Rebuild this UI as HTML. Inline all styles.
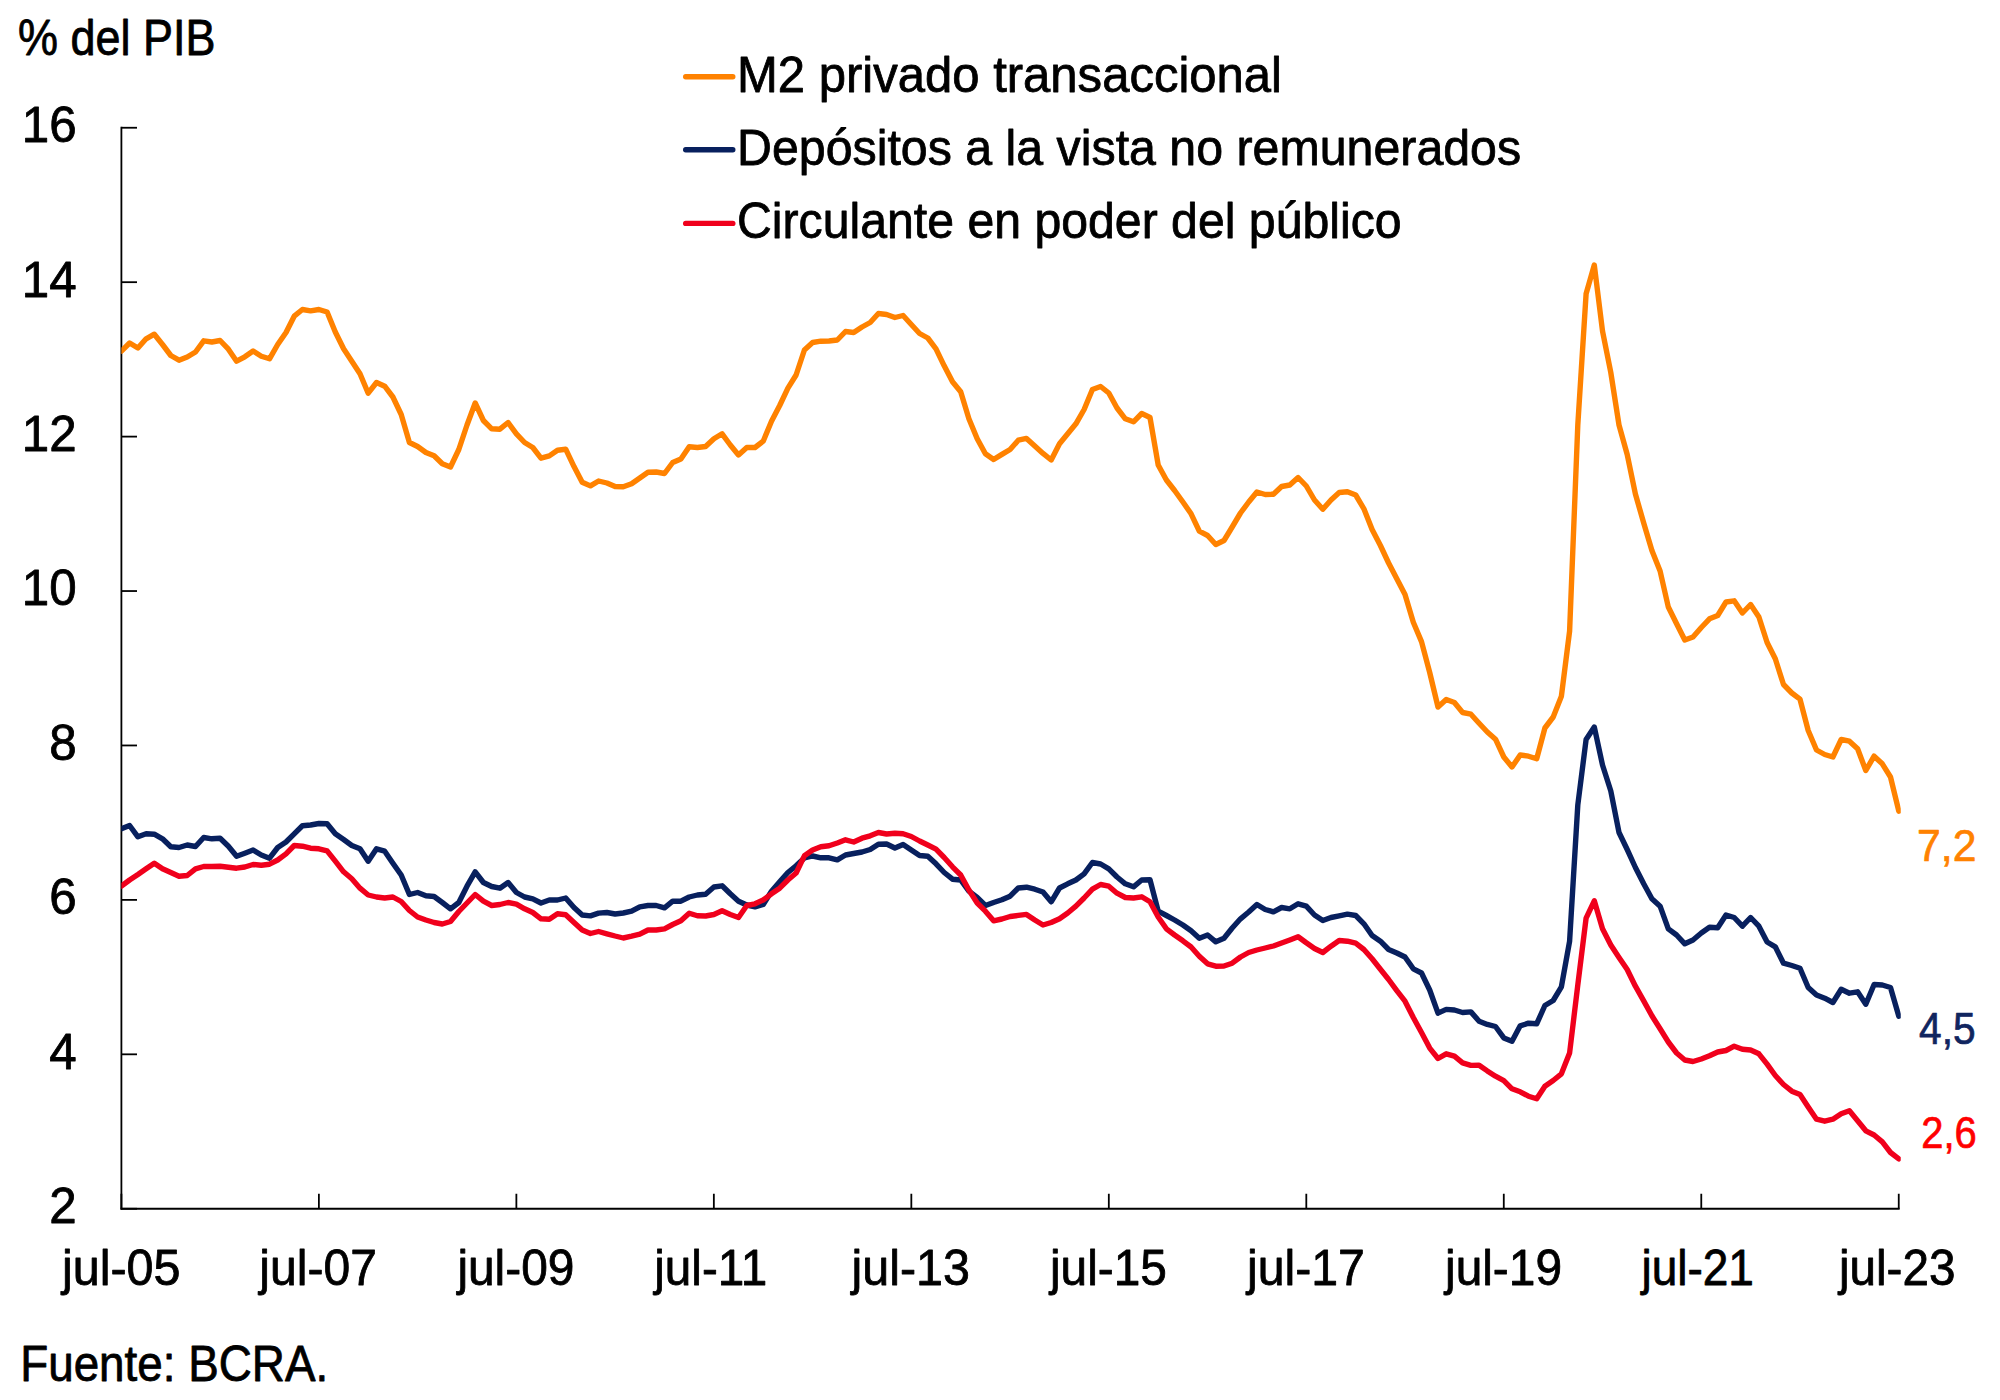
<!DOCTYPE html>
<html lang="es">
<head>
<meta charset="utf-8">
<title>Agregados monetarios - % del PIB</title>
<style>
html,body{margin:0;padding:0;background:#fff;}
body{width:2000px;height:1400px;overflow:hidden;}
svg{display:block;}
text{font-family:"Liberation Sans",sans-serif;fill:#000;stroke:#000;stroke-width:0.8px;stroke-linejoin:round;}
.t49{font-size:49.3px;}
.t44{font-size:44.4px;stroke-width:0.7px;}
</style>
</head>
<body>
<svg width="2000" height="1400" viewBox="0 0 2000 1400">
<rect width="2000" height="1400" fill="#ffffff"/>
<g stroke="#000" stroke-width="1.8" fill="none" stroke-linecap="butt">
<path d="M121.4,126.85 V1209.65"/>
<path d="M120.5,1208.75 H1899.65"/>
<path d="M121.4,127.75 h15.6"/>
<path d="M121.4,282.18 h15.6"/>
<path d="M121.4,436.61 h15.6"/>
<path d="M121.4,591.04 h15.6"/>
<path d="M121.4,745.46 h15.6"/>
<path d="M121.4,899.89 h15.6"/>
<path d="M121.4,1054.32 h15.6"/>
<path d="M121.4,1208.75 h15.6"/>
<path d="M121.40,1208.75 v-15"/>
<path d="M318.88,1208.75 v-15"/>
<path d="M516.37,1208.75 v-15"/>
<path d="M713.85,1208.75 v-15"/>
<path d="M911.33,1208.75 v-15"/>
<path d="M1108.82,1208.75 v-15"/>
<path d="M1306.30,1208.75 v-15"/>
<path d="M1503.78,1208.75 v-15"/>
<path d="M1701.27,1208.75 v-15"/>
<path d="M1898.75,1208.75 v-15"/>
</g>
<text id="y16" class="t49" x="76.60" y="142.15" text-anchor="end">16</text>
<text id="y14" class="t49" x="76.60" y="296.58" text-anchor="end">14</text>
<text id="y12" class="t49" x="76.60" y="451.01" text-anchor="end">12</text>
<text id="y10" class="t49" x="76.60" y="605.44" text-anchor="end">10</text>
<text id="y8" class="t49" x="76.60" y="759.86" text-anchor="end">8</text>
<text id="y6" class="t49" x="76.60" y="914.29" text-anchor="end">6</text>
<text id="y4" class="t49" x="76.60" y="1068.72" text-anchor="end">4</text>
<text id="y2" class="t49" x="76.60" y="1223.15" text-anchor="end">2</text>
<text id="x0" class="t49" x="121.22" y="1285.30" text-anchor="middle" textLength="118.59" lengthAdjust="spacingAndGlyphs">jul-05</text>
<text id="x1" class="t49" x="318.14" y="1285.30" text-anchor="middle" textLength="117.57" lengthAdjust="spacingAndGlyphs">jul-07</text>
<text id="x2" class="t49" x="515.88" y="1285.30" text-anchor="middle" textLength="116.99" lengthAdjust="spacingAndGlyphs">jul-09</text>
<text id="x3" class="t49" x="710.71" y="1285.30" text-anchor="middle" textLength="112.94" lengthAdjust="spacingAndGlyphs">jul-11</text>
<text id="x4" class="t49" x="910.69" y="1285.30" text-anchor="middle" textLength="118.39" lengthAdjust="spacingAndGlyphs">jul-13</text>
<text id="x5" class="t49" x="1108.44" y="1285.30" text-anchor="middle" textLength="116.97" lengthAdjust="spacingAndGlyphs">jul-15</text>
<text id="x6" class="t49" x="1305.98" y="1285.30" text-anchor="middle" textLength="117.97" lengthAdjust="spacingAndGlyphs">jul-17</text>
<text id="x7" class="t49" x="1503.50" y="1285.30" text-anchor="middle" textLength="116.99" lengthAdjust="spacingAndGlyphs">jul-19</text>
<text id="x8" class="t49" x="1697.69" y="1285.30" text-anchor="middle" textLength="112.54" lengthAdjust="spacingAndGlyphs">jul-21</text>
<text id="x9" class="t49" x="1897.19" y="1285.30" text-anchor="middle" textLength="116.60" lengthAdjust="spacingAndGlyphs">jul-23</text>
<text id="pib" class="t49" x="18.10" y="54.80" textLength="197.40" lengthAdjust="spacingAndGlyphs">% del PIB</text>
<text id="fuente" class="t49" x="20.23" y="1380.50" textLength="307.93" lengthAdjust="spacingAndGlyphs">Fuente: BCRA.</text>
<text id="leg1" class="t49" x="737.00" y="91.80" textLength="545.02" lengthAdjust="spacingAndGlyphs">M2 privado transaccional</text>
<text id="leg2" class="t49" x="737.08" y="164.60" textLength="784.07" lengthAdjust="spacingAndGlyphs">Depósitos a la vista no remunerados</text>
<text id="leg3" class="t49" x="737.04" y="237.80" textLength="664.56" lengthAdjust="spacingAndGlyphs">Circulante en poder del público</text>
<text id="e72" class="t44" x="1917.10" y="861.00" style="fill:#ff8200;stroke:#ff8200" textLength="59.40" lengthAdjust="spacingAndGlyphs">7,2</text>
<text id="e45" class="t44" x="1919.06" y="1043.80" style="fill:#10255f;stroke:#10255f" textLength="56.52" lengthAdjust="spacingAndGlyphs">4,5</text>
<text id="e26" class="t44" x="1921.18" y="1148.00" style="fill:#ff0000;stroke:#ff0000" textLength="55.60" lengthAdjust="spacingAndGlyphs">2,6</text>
<g fill="none" stroke-width="5.4" stroke-linecap="round"><path d="M685.7,76.8 H732.8" stroke="#ff8200"/><path d="M685.7,149.8 H732.8" stroke="#08205e"/><path d="M685.7,223.4 H732.8" stroke="#f0001c"/></g>
<clipPath id="plotclip"><rect x="121.4" y="100" width="1779.35" height="1200"/></clipPath>
<g clip-path="url(#plotclip)" fill="none" stroke-width="5.4" stroke-linejoin="round" stroke-linecap="round">
<polyline points="121.4,351.2 129.6,343.0 137.9,348.0 146.1,338.8 154.3,334.2 162.5,344.5 170.8,355.5 179.0,360.2 187.2,357.0 195.5,352.0 203.7,340.8 211.9,342.0 220.1,340.5 228.4,349.2 236.6,361.2 244.8,356.8 253.1,351.0 261.3,356.2 269.5,358.8 277.7,344.5 286.0,332.5 294.2,316.2 302.4,309.5 310.6,310.8 318.9,309.5 327.1,312.0 335.3,332.0 343.6,348.8 351.8,361.2 360.0,373.8 368.2,393.2 376.5,382.5 384.7,386.2 392.9,397.0 401.2,414.5 409.4,442.5 417.6,446.5 425.9,452.5 434.1,455.8 442.3,463.8 450.5,467.0 458.8,449.5 467.0,425.0 475.2,403.0 483.4,420.5 491.7,428.8 499.9,429.2 508.1,422.5 516.4,433.8 524.6,442.5 532.8,447.5 541.0,458.2 549.3,455.9 557.5,450.2 565.7,449.2 574.0,466.6 582.2,482.2 590.4,485.9 598.6,481.0 606.9,483.0 615.1,486.5 623.3,486.8 631.6,483.8 639.8,478.0 648.0,472.2 656.2,472.0 664.5,473.5 672.7,462.5 680.9,459.0 689.2,446.8 697.4,447.5 705.6,446.5 713.9,438.8 722.1,433.8 730.3,445.0 738.5,455.0 746.8,447.5 755.0,447.5 763.2,441.2 771.5,421.2 779.7,405.5 787.9,388.2 796.1,375.0 804.4,350.0 812.6,342.5 820.8,341.2 829.0,341.0 837.3,340.0 845.5,331.5 853.7,332.5 862.0,327.0 870.2,322.5 878.4,313.5 886.6,314.5 894.9,317.5 903.1,315.5 911.3,324.5 919.6,333.5 927.8,338.0 936.0,348.8 944.2,365.8 952.5,381.8 960.7,391.8 968.9,418.8 977.2,438.8 985.4,453.8 993.6,459.5 1001.9,454.4 1010.1,449.5 1018.3,440.2 1026.5,438.4 1034.8,445.9 1043.0,453.4 1051.2,460.0 1059.5,443.8 1067.7,433.8 1075.9,423.8 1084.1,409.5 1092.4,389.5 1100.6,386.5 1108.8,393.0 1117.0,408.0 1125.3,418.8 1133.5,421.8 1141.7,413.5 1150.0,417.5 1158.2,465.0 1166.4,480.0 1174.6,490.5 1182.9,502.0 1191.1,513.8 1199.3,531.2 1207.6,535.5 1215.8,544.5 1224.0,540.5 1232.2,527.0 1240.5,513.0 1248.7,502.0 1256.9,492.0 1265.2,494.5 1273.4,494.2 1281.6,486.5 1289.8,485.0 1298.1,477.5 1306.3,486.0 1314.5,500.0 1322.8,509.2 1331.0,500.0 1339.2,492.5 1347.4,491.8 1355.7,495.0 1363.9,508.8 1372.1,529.5 1380.4,545.5 1388.6,563.0 1396.8,578.8 1405.0,594.5 1413.3,622.2 1421.5,641.6 1429.7,672.5 1438.0,707.0 1446.2,699.5 1454.4,702.5 1462.6,712.5 1470.9,714.2 1479.1,723.2 1487.3,732.0 1495.5,739.2 1503.8,757.0 1512.0,767.0 1520.2,755.0 1528.5,756.2 1536.7,758.8 1544.9,728.0 1553.2,717.0 1561.4,696.2 1569.6,631.2 1577.8,425.0 1586.1,293.8 1594.3,265.0 1602.5,331.0 1610.8,372.5 1619.0,425.0 1627.2,454.5 1635.4,494.0 1643.7,523.0 1651.9,550.5 1660.1,571.0 1668.3,607.0 1676.6,623.8 1684.8,640.0 1693.0,637.0 1701.3,627.5 1709.5,618.8 1717.7,615.5 1726.0,602.0 1734.2,600.8 1742.4,613.0 1750.6,604.5 1758.9,617.0 1767.1,642.5 1775.3,658.8 1783.5,684.5 1791.8,693.0 1800.0,699.2 1808.2,730.5 1816.5,750.0 1824.7,754.5 1832.9,757.0 1841.2,739.5 1849.4,741.2 1857.6,748.8 1865.8,770.5 1874.1,756.2 1882.3,763.8 1890.5,777.0 1898.8,811.2" stroke="#ff8200"/>
<polyline points="121.4,828.8 129.6,825.5 137.9,836.8 146.1,833.8 154.3,834.2 162.5,838.8 170.8,846.8 179.0,847.5 187.2,845.0 195.5,846.5 203.7,837.5 211.9,838.8 220.1,838.2 228.4,846.2 236.6,856.2 244.8,853.2 253.1,850.0 261.3,855.0 269.5,858.2 277.7,847.5 286.0,842.0 294.2,833.8 302.4,825.8 310.6,825.0 318.9,823.5 327.1,823.8 335.3,833.8 343.6,839.5 351.8,845.5 360.0,848.8 368.2,861.2 376.5,848.8 384.7,851.2 392.9,863.2 401.2,875.0 409.4,894.5 417.6,892.5 425.9,895.8 434.1,896.5 442.3,902.5 450.5,908.8 458.8,902.5 467.0,886.2 475.2,871.8 483.4,882.5 491.7,886.5 499.9,888.2 508.1,882.5 516.4,892.5 524.6,897.0 532.8,898.8 541.0,903.0 549.3,900.0 557.5,900.0 565.7,898.0 574.0,907.5 582.2,915.0 590.4,915.9 598.6,913.1 606.9,912.5 615.1,914.0 623.3,913.0 631.6,911.2 639.8,906.8 648.0,905.5 656.2,905.5 664.5,907.8 672.7,901.2 680.9,901.2 689.2,897.0 697.4,895.0 705.6,894.2 713.9,887.0 722.1,885.8 730.3,893.8 738.5,901.2 746.8,905.0 755.0,906.8 763.2,904.5 771.5,891.2 779.7,881.8 787.9,872.5 796.1,865.8 804.4,858.0 812.6,856.0 820.8,857.8 829.0,857.8 837.3,859.8 845.5,855.0 853.7,853.5 862.0,852.0 870.2,849.5 878.4,844.2 886.6,844.0 894.9,848.0 903.1,844.5 911.3,850.0 919.6,855.5 927.8,856.2 936.0,863.8 944.2,872.5 952.5,879.2 960.7,880.0 968.9,891.2 977.2,897.5 985.4,905.5 993.6,902.5 1001.9,899.8 1010.1,896.2 1018.3,888.0 1026.5,887.2 1034.8,889.2 1043.0,892.0 1051.2,901.8 1059.5,888.0 1067.7,883.8 1075.9,880.0 1084.1,873.8 1092.4,862.5 1100.6,864.0 1108.8,868.8 1117.0,877.0 1125.3,883.8 1133.5,886.8 1141.7,880.0 1150.0,879.8 1158.2,911.2 1166.4,915.5 1174.6,920.0 1182.9,925.0 1191.1,930.8 1199.3,938.2 1207.6,935.0 1215.8,941.8 1224.0,938.2 1232.2,928.0 1240.5,918.8 1248.7,912.0 1256.9,904.5 1265.2,909.5 1273.4,911.8 1281.6,907.5 1289.8,908.8 1298.1,903.8 1306.3,906.2 1314.5,915.0 1322.8,920.5 1331.0,917.5 1339.2,915.8 1347.4,914.2 1355.7,915.5 1363.9,923.8 1372.1,935.5 1380.4,941.2 1388.6,949.5 1396.8,953.0 1405.0,957.0 1413.3,968.8 1421.5,973.0 1429.7,990.0 1438.0,1013.1 1446.2,1009.4 1454.4,1010.0 1462.6,1012.5 1470.9,1011.9 1479.1,1021.2 1487.3,1024.4 1495.5,1026.5 1503.8,1037.9 1512.0,1041.2 1520.2,1025.8 1528.5,1023.2 1536.7,1023.8 1544.9,1005.5 1553.2,1000.5 1561.4,986.8 1569.6,941.2 1577.8,805.0 1586.1,739.5 1594.3,727.0 1602.5,765.0 1610.8,791.0 1619.0,832.5 1627.2,849.5 1635.4,867.5 1643.7,883.8 1651.9,898.8 1660.1,906.2 1668.3,928.8 1676.6,935.0 1684.8,943.8 1693.0,940.0 1701.3,933.0 1709.5,927.2 1717.7,927.8 1726.0,915.0 1734.2,917.5 1742.4,926.2 1750.6,917.5 1758.9,926.2 1767.1,942.0 1775.3,946.8 1783.5,963.2 1791.8,965.5 1800.0,968.2 1808.2,987.5 1816.5,995.0 1824.7,998.2 1832.9,1002.5 1841.2,989.2 1849.4,993.2 1857.6,991.8 1865.8,1004.2 1874.1,984.5 1882.3,985.0 1890.5,987.5 1898.8,1016.2" stroke="#08205e"/>
<polyline points="121.4,886.2 129.6,880.0 137.9,874.5 146.1,868.8 154.3,863.2 162.5,868.8 170.8,872.5 179.0,876.2 187.2,875.5 195.5,868.8 203.7,866.5 211.9,866.5 220.1,866.2 228.4,867.2 236.6,868.2 244.8,867.0 253.1,864.5 261.3,865.2 269.5,864.2 277.7,860.0 286.0,853.8 294.2,845.5 302.4,846.2 310.6,848.2 318.9,848.8 327.1,850.8 335.3,861.2 343.6,871.8 351.8,878.8 360.0,888.2 368.2,895.0 376.5,897.0 384.7,898.0 392.9,897.0 401.2,901.5 409.4,910.5 417.6,917.0 425.9,920.0 434.1,922.5 442.3,924.0 450.5,921.5 458.8,911.5 467.0,903.0 475.2,894.5 483.4,901.2 491.7,905.5 499.9,904.5 508.1,902.5 516.4,904.2 524.6,908.8 532.8,912.5 541.0,918.8 549.3,919.2 557.5,913.8 565.7,914.8 574.0,922.5 582.2,930.0 590.4,933.5 598.6,931.5 606.9,933.8 615.1,936.0 623.3,938.0 631.6,936.2 639.8,934.2 648.0,930.0 656.2,930.0 664.5,928.8 672.7,924.5 680.9,920.8 689.2,913.2 697.4,915.8 705.6,916.0 713.9,914.5 722.1,910.8 730.3,914.5 738.5,917.5 746.8,905.5 755.0,903.8 763.2,900.0 771.5,893.8 779.7,888.2 787.9,880.0 796.1,873.0 804.4,855.8 812.6,850.0 820.8,846.8 829.0,845.8 837.3,843.0 845.5,839.8 853.7,842.0 862.0,838.2 870.2,835.8 878.4,832.5 886.6,834.0 894.9,833.2 903.1,833.8 911.3,836.5 919.6,841.0 927.8,845.0 936.0,849.2 944.2,857.5 952.5,866.8 960.7,875.0 968.9,890.0 977.2,903.0 985.4,911.2 993.6,920.8 1001.9,919.0 1010.1,916.5 1018.3,915.4 1026.5,914.4 1034.8,920.0 1043.0,925.0 1051.2,922.5 1059.5,918.8 1067.7,913.0 1075.9,906.2 1084.1,898.0 1092.4,889.2 1100.6,884.5 1108.8,886.2 1117.0,893.2 1125.3,897.5 1133.5,898.0 1141.7,896.8 1150.0,901.8 1158.2,917.0 1166.4,928.8 1174.6,935.0 1182.9,940.8 1191.1,947.0 1199.3,956.2 1207.6,963.8 1215.8,966.2 1224.0,966.0 1232.2,963.2 1240.5,957.0 1248.7,952.5 1256.9,950.0 1265.2,948.0 1273.4,946.0 1281.6,943.0 1289.8,940.0 1298.1,936.8 1306.3,942.8 1314.5,948.5 1322.8,952.5 1331.0,946.2 1339.2,940.5 1347.4,941.2 1355.7,943.2 1363.9,949.5 1372.1,958.8 1380.4,969.2 1388.6,979.5 1396.8,990.6 1405.0,1001.2 1413.3,1017.5 1421.5,1032.5 1429.7,1048.1 1438.0,1058.5 1446.2,1053.8 1454.4,1056.2 1462.6,1062.9 1470.9,1065.4 1479.1,1065.2 1487.3,1070.9 1495.5,1076.2 1503.8,1080.6 1512.0,1088.8 1520.2,1091.8 1528.5,1096.2 1536.7,1098.8 1544.9,1086.2 1553.2,1080.5 1561.4,1073.8 1569.6,1053.0 1577.8,985.0 1586.1,918.2 1594.3,900.8 1602.5,928.8 1610.8,945.0 1619.0,957.5 1627.2,969.5 1635.4,986.2 1643.7,1000.8 1651.9,1015.8 1660.1,1028.8 1668.3,1042.0 1676.6,1053.0 1684.8,1060.0 1693.0,1061.5 1701.3,1059.0 1709.5,1055.8 1717.7,1052.0 1726.0,1050.5 1734.2,1046.2 1742.4,1049.2 1750.6,1050.0 1758.9,1053.8 1767.1,1064.2 1775.3,1075.5 1783.5,1084.5 1791.8,1091.2 1800.0,1094.5 1808.2,1107.0 1816.5,1119.2 1824.7,1121.2 1832.9,1119.2 1841.2,1113.8 1849.4,1110.8 1857.6,1120.8 1865.8,1130.8 1874.1,1135.0 1882.3,1141.8 1890.5,1152.5 1898.8,1158.8" stroke="#f0001c"/>
</g>
</svg>
</body>
</html>
